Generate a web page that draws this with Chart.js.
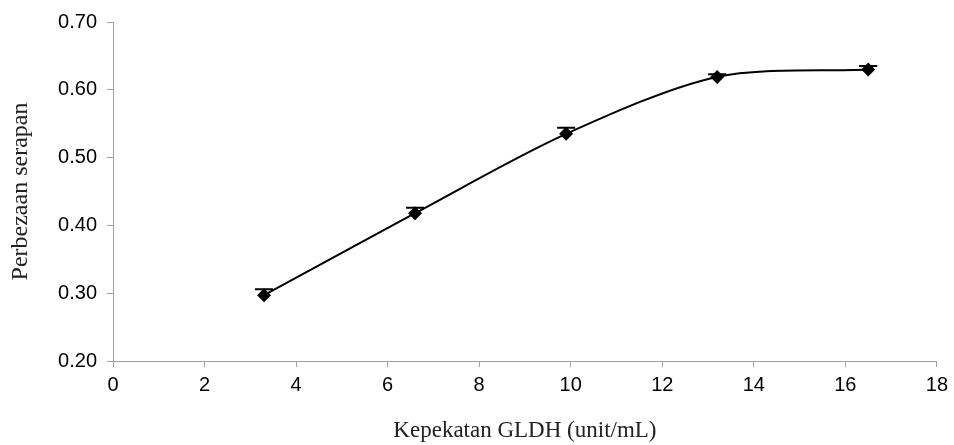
<!DOCTYPE html>
<html>
<head>
<meta charset="utf-8">
<script src="https://cdn.jsdelivr.net/npm/chart.js@4.4.0/dist/chart.umd.min.js"></script>
<style>
  html, body { margin: 0; padding: 0; background: #ffffff; }
  #wrap { width: 954px; height: 445px; }
</style>
</head>
<body>
<div id="wrap"><canvas id="chart" width="954" height="445"></canvas></div>
<script>
//GLDH concentration (unit/mL)
const conc = [3.3, 6.6, 9.9, 13.2, 16.5];
//absorbance difference
const absorbDiff = [0.297, 0.418, 0.535, 0.619, 0.630];
//error bar size (plus direction)
const errBars = [0.009, 0.008, 0.009, 0.004, 0.005];

const axisColor = "#a0a0a0";

//Plugin that draws the error bars through the chart scales
const errorBarPlugin = {
  id: "errorBars",
  beforeDatasetsDraw(chart) {
    const ctx = chart.ctx;
    const xs = chart.scales.x;
    const ys = chart.scales.y;
    ctx.save();
    ctx.strokeStyle = "#000000";
    ctx.lineWidth = 2;
    for (let i = 0; i < conc.length; i++) {
      const px = xs.getPixelForValue(conc[i]);
      const mid = ys.getPixelForValue(absorbDiff[i]);
      const top = ys.getPixelForValue(absorbDiff[i] + errBars[i]);
      ctx.beginPath();
      ctx.moveTo(px, mid);
      ctx.lineTo(px, top);
      ctx.moveTo(px - 9, top);
      ctx.lineTo(px + 9, top);
      ctx.stroke();
    }
    ctx.restore();
  },
};

const points = conc.map((c, i) => ({ x: c, y: absorbDiff[i] }));

new Chart(document.getElementById("chart"), {
  type: "scatter",
  plugins: [errorBarPlugin],
  data: {
    datasets: [
      {
        data: points,
        showLine: true,
        tension: 0.3,
        borderColor: "#000000",
        borderWidth: 2,
        backgroundColor: "#000000",
        pointStyle: "rectRot",
        pointRadius: 7,
        pointBorderWidth: 0,
      },
    ],
  },
  options: {
    responsive: false,
    animation: false,
    layout: { padding: { top: 21, right: 17, bottom: 0, left: 0 } },
    plugins: {
      legend: { display: false },
      tooltip: { enabled: false },
    },
    scales: {
      x: {
        type: "linear",
        min: 0,
        max: 18,
        afterFit: (s) => { s.height = 84; },
        border: { color: axisColor, width: 1 },
        grid: { drawOnChartArea: false, drawTicks: true, tickLength: 6, color: axisColor },
        ticks: {
          stepSize: 2,
          color: "#000000",
          padding: 6,
          font: { family: "Liberation Sans, Arial, sans-serif", size: 20 },
        },
        title: {
          display: true,
          text: "Kepekatan GLDH (unit/mL)",
          color: "#222222",
          padding: { top: 10, bottom: 0 },
          font: { family: "Liberation Serif, Times New Roman, serif", size: 23 },
        },
      },
      y: {
        type: "linear",
        min: 0.2,
        max: 0.7,
        afterFit: (s) => { s.width = 113; },
        border: { color: axisColor, width: 1 },
        grid: { drawOnChartArea: false, drawTicks: true, tickLength: 6, color: axisColor },
        ticks: {
          stepSize: 0.1,
          color: "#000000",
          padding: 10,
          font: { family: "Liberation Sans, Arial, sans-serif", size: 20 },
          callback: (v) => v.toFixed(2),
        },
        title: {
          display: true,
          text: "Perbezaan serapan",
          color: "#222222",
          padding: { top: 6, bottom: 6 },
          font: { family: "Liberation Serif, Times New Roman, serif", size: 24 },
        },
      },
    },
  },
});
</script>
</body>
</html>
